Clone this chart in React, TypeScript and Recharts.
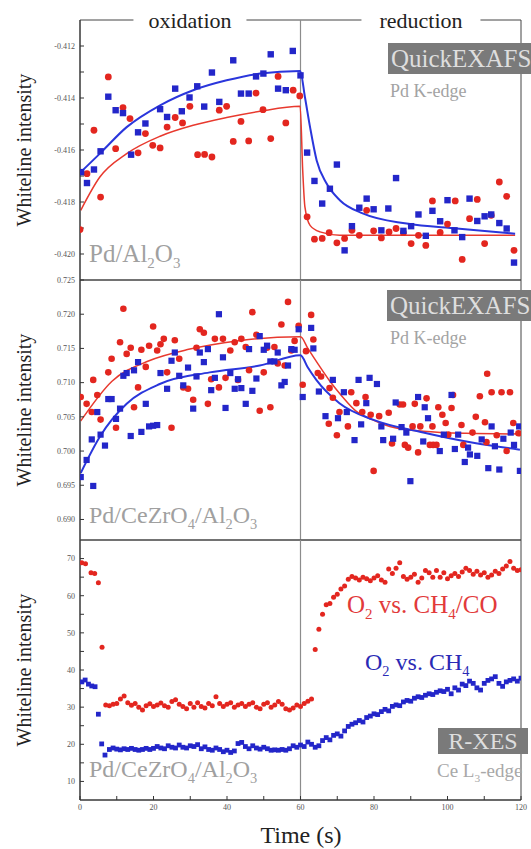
import {
  ComposedChart,
  Line,
  ReferenceArea,
  ReferenceLine,
  Scatter,
  XAxis,
  YAxis,
} from "recharts";

const SERIF = "'Liberation Serif', 'Times New Roman', Tinos, Times, serif";
const RED = "#e3261f";
const BLUE = "#2326c9";
const RED_FIT = "#e8392e";
const BLUE_FIT = "#2a36dc";

const X_TICKS = [0, 10, 20, 30, 40, 50, 60, 70, 80, 90, 100, 110, 120];
const Y1_TICKS = [-0.42, -0.419, -0.418, -0.417, -0.416, -0.415, -0.414, -0.413, -0.412];
const Y2_TICKS = [0.69, 0.695, 0.7, 0.705, 0.71, 0.715, 0.72, 0.725];
const Y3_TICKS = [10, 15, 20, 25, 30, 35, 40, 45, 50, 55, 60, 65, 70];

// Pd/Al2O3 (QuickEXAFS), [time, intensity]
const P1_BLUE = [
  [0.3, -0.41685], [1.9, -0.41727], [3.8, -0.41675], [5.6, -0.41605], [7.7, -0.41395], [9.7, -0.41447],
  [11.7, -0.41458], [13.9, -0.41618], [15.8, -0.41532], [17.8, -0.41498], [21.8, -0.41443], [23.7, -0.41473],
  [25.9, -0.41364], [27.7, -0.41451], [29.8, -0.41398], [31.9, -0.41355], [33.8, -0.41433], [35.9, -0.41302],
  [37.9, -0.41415], [41.7, -0.41255], [43.8, -0.41383], [45.9, -0.41383], [47.9, -0.41317], [49.9, -0.41306],
  [51.9, -0.41232], [53.9, -0.41364], [56, -0.4137], [57.9, -0.41219], [60, -0.41313], [61.8, -0.4161],
  [63.8, -0.41719], [65.9, -0.41806], [68, -0.41749], [69.9, -0.41656], [72, -0.41986], [74, -0.41893],
  [76, -0.41822], [78, -0.41787], [79.9, -0.41828], [82, -0.41909], [83.9, -0.41825], [86, -0.41708],
  [88, -0.41911], [90.1, -0.41893], [92.1, -0.41848], [94.1, -0.4193], [95.9, -0.41834], [98, -0.41874],
  [100, -0.41793], [101.9, -0.41909], [104, -0.41935], [106, -0.41787], [108.1, -0.41873], [110.1, -0.41855],
  [111.9, -0.41848], [114.1, -0.41881], [116.1, -0.41902], [118.1, -0.42033],
];
const P1_RED = [
  [0, -0.41906], [1.9, -0.41691], [3.8, -0.41524], [5.6, -0.41781], [7.7, -0.41319], [9.7, -0.41595],
  [11.7, -0.41437], [13.6, -0.41479], [15.8, -0.41611], [17.8, -0.41537], [19.8, -0.41582], [21.8, -0.41592],
  [23.7, -0.41512], [25.9, -0.41475], [27.9, -0.41496], [29.9, -0.41432], [32, -0.41618], [33.9, -0.41617],
  [35.9, -0.41627], [37.9, -0.41447], [39.9, -0.41432], [41.7, -0.41567], [43.8, -0.4149], [45.9, -0.41565],
  [47.9, -0.41381], [49.8, -0.41445], [51.9, -0.41556], [53.9, -0.41317], [56, -0.41496], [58, -0.4137],
  [59.8, -0.41392], [61.8, -0.41857], [63.8, -0.41943], [65.9, -0.4194], [67.8, -0.41918], [69.9, -0.41957],
  [72, -0.4194], [74, -0.41909], [76, -0.41928], [78, -0.41832], [79.9, -0.41911], [82, -0.41938],
  [84.1, -0.41915], [86, -0.41902], [88, -0.41918], [90.1, -0.4196], [92.1, -0.41928], [94.1, -0.41967],
  [95.9, -0.41796], [98, -0.41917], [100, -0.41885], [102.1, -0.41796], [104, -0.42021], [106, -0.41864],
  [108.1, -0.4179], [110.1, -0.4196], [111.9, -0.41851], [114.1, -0.41723], [116.1, -0.41778], [118.1, -0.41986],
];
const P1_BLUE_FIT = [
  [0.2, -0.41685], [5.4, -0.41614], [12.7, -0.41512], [21.8, -0.41428], [30.8, -0.4137], [39.9, -0.41332],
  [49, -0.41306], [59.9, -0.41296], [61.2, -0.41396], [62.6, -0.41512], [64.4, -0.4164], [67.1, -0.41729],
  [70.7, -0.41793], [77.1, -0.41845], [88.9, -0.41883], [102.5, -0.41902], [118.4, -0.41922],
];
const P1_RED_FIT = [
  [0.2, -0.41832], [5.4, -0.41704], [12.7, -0.41614], [21.8, -0.41547], [30.8, -0.41505], [39.9, -0.41475],
  [49, -0.41451], [59.9, -0.41432], [60.6, -0.41678], [61.2, -0.41819], [62.6, -0.4189], [65.3, -0.41915],
  [70.7, -0.41928], [118.4, -0.41928],
];

// Pd/CeZrO4/Al2O3 (QuickEXAFS)
const P2_RED = [
  [0.2, 0.7079], [1.8, 0.7069], [3.2, 0.7057], [3.6, 0.7104], [4.7, 0.7082], [5.6, 0.7046], [7.7, 0.7115],
  [8.6, 0.7135], [9.8, 0.7034], [10.9, 0.7159], [11.8, 0.7208], [12.7, 0.7142], [13.8, 0.7151], [14.7, 0.7064],
  [15.8, 0.7093], [16.7, 0.7148], [17.9, 0.7123], [18.8, 0.7154], [19.9, 0.7182], [21, 0.7147], [21.9, 0.7156],
  [22.8, 0.7164], [23.7, 0.7115], [24.9, 0.7034], [25.8, 0.7162], [27, 0.7135], [28.1, 0.7093], [29.4, 0.7091],
  [30.8, 0.7075], [31.7, 0.7151], [32.6, 0.7178], [33.7, 0.7173], [34.8, 0.7069], [35.7, 0.7105], [36.7, 0.7164],
  [37.8, 0.7093], [38.9, 0.7164], [39.6, 0.7107], [40.9, 0.7147], [42.1, 0.7159], [43, 0.7104], [43.9, 0.7164],
  [45.1, 0.7152], [46, 0.7118], [46.9, 0.7203], [48, 0.717], [48.9, 0.7059], [50, 0.7115], [50.9, 0.7151],
  [51.8, 0.7064], [52.9, 0.7152], [53.8, 0.7128], [54.8, 0.7185], [55.7, 0.7125], [56.6, 0.7218], [57.5, 0.7147],
  [58.4, 0.7161], [59.5, 0.7183], [60.6, 0.7097], [61.5, 0.7146], [62.9, 0.7199], [63.5, 0.7163], [64.7, 0.7114],
  [65.6, 0.7109], [67.7, 0.704], [67.9, 0.7092], [68.8, 0.7078], [69.9, 0.7023], [70.6, 0.7057], [72.9, 0.7036],
  [73.8, 0.7086], [75.2, 0.707], [76.8, 0.7057], [77.7, 0.7079], [79.1, 0.7053], [79.9, 0.6971], [81.4, 0.7051],
  [84, 0.7056], [84.9, 0.7011], [87, 0.7068], [87.9, 0.7068], [88.4, 0.7009], [89.3, 0.7005], [90.5, 0.7036],
  [91.1, 0.7069], [92, 0.6998], [92.6, 0.7036], [94.3, 0.7077], [95.2, 0.7009], [95.9, 0.7036], [96.1, 0.7009],
  [97, 0.7009], [97.5, 0.7064], [98.6, 0.7053], [99.5, 0.7041], [100.2, 0.7024], [101.1, 0.7063], [101.5, 0.7082],
  [103.8, 0.7038], [104.3, 0.7009], [106.8, 0.7027], [107.7, 0.705], [108.8, 0.708], [110.2, 0.7042],
  [110.6, 0.7013], [110.8, 0.7113], [112, 0.7086], [113.4, 0.7023], [114.7, 0.7086], [116.1, 0.7], [117, 0.7086],
  [117.9, 0.7041], [119.3, 0.7026],
];
const P2_BLUE = [
  [0.2, 0.6962], [1.8, 0.6987], [3.2, 0.7017], [3.6, 0.6949], [4.7, 0.7057], [5.6, 0.7024], [6.8, 0.7008],
  [7.7, 0.7076], [8.6, 0.7076], [9.8, 0.7047], [10.9, 0.7062], [11.8, 0.711], [12.7, 0.7114], [13.8, 0.7022],
  [14.7, 0.7118], [15.8, 0.713], [16.7, 0.7028], [17.9, 0.7069], [18.8, 0.7036], [19.9, 0.7037], [21, 0.7038],
  [21.9, 0.7114], [23.7, 0.7091], [24.9, 0.7132], [25.8, 0.7144], [27, 0.711], [28.1, 0.7096], [29.4, 0.7122],
  [30.8, 0.7062], [31.7, 0.7109], [32.6, 0.7144], [33.7, 0.713], [34.8, 0.7149], [35.7, 0.7089], [36.7, 0.7107],
  [37.8, 0.72], [38.9, 0.7137], [39.6, 0.7063], [40.9, 0.7114], [42.1, 0.7091], [43, 0.7105], [43.9, 0.7092],
  [45.1, 0.7069], [46, 0.7149], [46.9, 0.7088], [48, 0.7106], [48.9, 0.7168], [50, 0.7148], [50.9, 0.7154],
  [51.8, 0.7131], [52.9, 0.7131], [53.8, 0.7144], [54.8, 0.7096], [55.7, 0.7101], [56.6, 0.7125], [57.5, 0.7149],
  [58.4, 0.7148], [59.5, 0.7178], [60.6, 0.7079], [62.9, 0.718], [63.5, 0.715], [65, 0.7087], [66.8, 0.7051],
  [68.8, 0.7104], [70.2, 0.7048], [71.8, 0.7086], [72.6, 0.7057], [74.7, 0.7016], [75.8, 0.7104], [76.5, 0.7039],
  [77.9, 0.707], [78.8, 0.7107], [80.8, 0.7098], [82, 0.7036], [82.5, 0.7016], [85.2, 0.7018], [85.9, 0.7071],
  [87.5, 0.7035], [88.8, 0.7027], [89.9, 0.6956], [92, 0.7079], [93.4, 0.7014], [93.8, 0.7064], [94.7, 0.7048],
  [97.9, 0.7], [99, 0.7024], [101.1, 0.7082], [102, 0.7003], [102.9, 0.7024], [104.7, 0.6984], [105.6, 0.7005],
  [106.1, 0.6995], [108.1, 0.6993], [109.3, 0.7017], [111.1, 0.6975], [112, 0.7036], [112.9, 0.7007],
  [114.1, 0.6973], [115.2, 0.7018], [117.2, 0.7027], [118.1, 0.7009], [119.5, 0.7036], [119.7, 0.6971],
];
const P2_RED_FIT = [
  [0.2, 0.7044], [8.7, 0.7102], [18.8, 0.7132], [29.9, 0.7149], [42.7, 0.7161], [60, 0.7167], [62, 0.715],
  [64.8, 0.7127], [68, 0.7102], [71, 0.7082], [75.2, 0.7058], [79.5, 0.7046], [84.3, 0.7036], [93.4, 0.7029],
  [105, 0.7026], [119.7, 0.7025],
];
const P2_BLUE_FIT = [
  [0.2, 0.6968], [5.4, 0.7021], [12.7, 0.7069], [21.7, 0.7098], [35.3, 0.7115], [48.9, 0.7125], [60, 0.714],
  [62, 0.7122], [64.3, 0.7104], [70.6, 0.707], [79.7, 0.7046], [93.4, 0.7027], [107, 0.7012], [119.7, 0.7002],
];

// Pd/CeZrO4/Al2O3 (R-XES, Ce L3-edge)
const P3_RED = [
  [0.5, 68.9], [1.5, 68.6], [3, 66.2], [4, 66.0], [5, 63.5], [6, 46.1], [7, 30.6], [8, 30.4], [9, 30.8],
  [10, 31.0], [11, 32.2], [12, 33.0], [13, 31.2], [14, 30.5], [15, 31.0], [16, 30.0], [17, 29.2], [18, 30.4],
  [19, 30.9], [20, 30.2], [21, 30.6], [22, 31.1], [23, 30.4], [24, 30.0], [25, 31.5], [26, 32.0], [27, 30.8],
  [28, 30.2], [29, 29.6], [30, 31.0], [31, 30.0], [32, 31.2], [33, 30.2], [34, 29.8], [35, 31.0], [36, 30.4],
  [37, 32.8], [38, 31.0], [39, 30.2], [40, 30.8], [41, 31.2], [42, 30.0], [43, 30.6], [44, 31.0], [45, 30.2],
  [46, 30.8], [47, 31.2], [48, 30.0], [49, 29.6], [50, 30.8], [51, 31.2], [52, 30.0], [53, 30.6], [54, 31.5],
  [55, 30.8], [56, 29.6], [57, 29.2], [58, 29.8], [59, 30.6], [60, 30.2], [61, 31.0], [62, 31.6], [63, 32.2],
  [64, 45.5], [65, 51.0], [66, 55.0], [67, 57.6], [68, 57.9], [69, 59.6], [70, 60.4], [71, 61.8], [72, 62.6],
  [73, 64.4], [74, 65.2], [75, 64.8], [76, 64.2], [77, 65.0], [78, 64.6], [79, 64.0], [80, 64.8], [81, 65.4],
  [82, 64.2], [83, 63.6], [84, 67.2], [85, 66.0], [86, 67.4], [87, 68.9], [88, 65.2], [89, 64.4], [90, 65.0],
  [91, 65.8], [92, 63.6], [93, 64.8], [94, 66.8], [95, 66.2], [96, 65.0], [97, 66.8], [98, 65.0], [99, 66.2],
  [100, 64.6], [101, 65.4], [102, 66.0], [103, 65.2], [104, 66.4], [105, 67.4], [106, 66.8], [107, 65.8],
  [108, 66.6], [109, 65.6], [110, 66.2], [111, 65.0], [112, 65.6], [113, 66.6], [114, 66.0], [115, 67.2],
  [116, 68.0], [117, 69.2], [118, 67.4], [119, 66.8], [120, 67.0],
];
const P3_BLUE = [
  [0.5, 36.8], [1.4, 37.3], [2.3, 36.2], [3.2, 35.7], [4.1, 35.5], [5, 28.1], [5.9, 20.1], [6.8, 17.1],
  [8, 18.6], [9, 19.0], [10, 18.7], [11, 18.5], [12, 18.8], [13, 18.6], [14, 18.9], [15, 18.6], [16, 18.4],
  [17, 18.6], [18, 18.9], [19, 18.6], [20, 18.9], [21, 19.4], [22, 19.0], [23, 18.8], [24, 19.6], [25, 19.2],
  [26, 19.0], [27, 19.8], [28, 19.2], [29, 19.0], [30, 19.6], [31, 19.4], [32, 19.9], [33, 18.8], [34, 19.3],
  [35, 18.6], [36, 18.4], [37, 19.0], [38, 18.6], [39, 18.0], [40, 18.4], [41, 17.8], [42, 18.2], [43, 20.2],
  [44, 20.5], [45, 19.4], [46, 18.8], [47, 19.6], [48, 19.0], [49, 18.7], [50, 19.2], [51, 18.8], [52, 18.4],
  [53, 18.5], [54, 18.4], [55, 18.6], [56, 18.4], [57, 18.8], [58, 19.6], [59, 19.2], [60, 19.8], [61, 19.4],
  [62, 20.6], [63, 20.0], [64, 19.2], [65, 19.6], [66, 21.0], [67, 21.8], [68, 21.2], [69, 22.4], [70, 22.8],
  [71, 22.2], [72, 23.6], [73, 24.8], [74, 25.4], [75, 25.8], [76, 26.4], [77, 26.0], [78, 27.2], [79, 27.6],
  [80, 28.2], [81, 28.0], [82, 28.8], [83, 29.4], [84, 29.0], [85, 30.2], [86, 30.6], [87, 30.4], [88, 31.4],
  [89, 31.8], [90, 31.6], [91, 32.4], [92, 32.8], [93, 32.6], [94, 33.2], [95, 33.6], [96, 33.4], [97, 34.0],
  [98, 34.4], [99, 34.2], [100, 34.8], [101, 33.6], [102, 35.2], [103, 34.6], [104, 36.2], [105, 35.8],
  [106, 37.0], [107, 36.4], [108, 35.2], [109, 34.6], [110, 36.4], [111, 37.2], [112, 37.6], [113, 38.2],
  [114, 36.4], [115, 35.6], [116, 36.8], [117, 37.2], [118, 37.6], [119, 37.0], [120, 37.8],
];

const pts = (arr: number[][]) => arr.map(([t, v]) => ({ t, v }));

const circle = (color: string, r: number) => (p: any) => (
  <circle cx={p.cx} cy={p.cy} r={r} fill={color} />
);
const square = (color: string, s: number) => (p: any) => (
  <rect x={p.cx - s / 2} y={p.cy - s / 2} width={s} height={s} fill={color} />
);

const tickStyle = { fontSize: 8, fill: "#555", stroke: "none", fontFamily: SERIF };

function Panel({
  top, height, mt, mb, xh, domain, yTicks, yFmt, showX, red, blue, redFit, blueFit, r, s,
}: any) {
  return (
    <div style={{ position: "absolute", left: 0, top }}>
      <ComposedChart width={531} height={height} margin={{ top: mt, right: 10, bottom: mb, left: 0 }}>
        <XAxis
          dataKey="t"
          type="number"
          domain={[0, 120]}
          ticks={X_TICKS}
          interval={0}
          allowDataOverflow
          height={xh}
          tickSize={-4}
          tickMargin={showX ? 8 : 0}
          tickFormatter={(v: number) => (showX && v % 20 === 0 ? String(v) : "")}
          stroke="#333"
          tick={tickStyle}
        />
        <YAxis
          type="number"
          domain={domain}
          ticks={yTicks}
          interval={0}
          allowDataOverflow
          width={80}
          tickSize={-4}
          tickMargin={9}
          tickFormatter={yFmt}
          stroke="#333"
          tick={tickStyle}
        />
        <ReferenceArea x1={0} x2={120} y1={domain[0]} y2={domain[1]} fill="none" stroke="#444" ifOverflow="visible" />
        <ReferenceLine x={60} stroke="#8c8c8c" strokeWidth={1.2} />
        <Scatter data={pts(red)} dataKey="v" shape={circle(RED, r)} isAnimationActive={false} />
        <Scatter data={pts(blue)} dataKey="v" shape={square(BLUE, s)} isAnimationActive={false} />
        {redFit && (
          <Line data={pts(redFit)} dataKey="v" type="monotone" stroke={RED_FIT} strokeWidth={1.5}
            dot={false} isAnimationActive={false} />
        )}
        {blueFit && (
          <Line data={pts(blueFit)} dataKey="v" type="monotone" stroke={BLUE_FIT} strokeWidth={2}
            dot={false} isAnimationActive={false} />
        )}
      </ComposedChart>
    </div>
  );
}

const Sub = ({ children }: any) => (
  <span style={{ fontSize: "0.6em", position: "relative", top: "0.4em" }}>{children}</span>
);

const txt = (left: number, top: number, size: number, color: string, extra: any = {}) => ({
  position: "absolute" as const,
  left,
  top,
  fontSize: size,
  color,
  lineHeight: 1,
  whiteSpace: "nowrap" as const,
  fontFamily: SERIF,
  ...extra,
});

const box = (left: number, top: number, width: number, height: number) => ({
  position: "absolute" as const,
  left,
  top,
  width,
  height,
  background: "#7a7a7a",
  color: "#dedede",
  fontSize: 25,
  lineHeight: `${height}px`,
  whiteSpace: "nowrap" as const,
  fontFamily: SERIF,
});

const yLabel = (cy: number) =>
  txt(24, cy, 20, "#222", { transform: "translate(-50%, -50%) rotate(-90deg)" });

export default function App() {
  return (
    <div style={{ position: "absolute", left: 0, top: 0, width: 531, height: 849, overflow: "hidden", background: "#fff" }}>
      <Panel top={0} height={290} mt={20} mb={10} xh={0} domain={[-0.421, -0.411]} yTicks={Y1_TICKS}
        yFmt={(v: number) => (Math.round(v * 1000) % 2 === 0 ? v.toFixed(3) : "")}
        showX={false} red={P1_RED} blue={P1_BLUE} redFit={P1_RED_FIT} blueFit={P1_BLUE_FIT} r={3.4} s={6.4} />
      <Panel top={270} height={280} mt={10} mb={10} xh={0} domain={[0.687, 0.725]} yTicks={Y2_TICKS}
        yFmt={(v: number) => v.toFixed(3)}
        showX={false} red={P2_RED} blue={P2_BLUE} redFit={P2_RED_FIT} blueFit={P2_BLUE_FIT} r={3.3} s={6.2} />
      <Panel top={530} height={319} mt={10} mb={19} xh={30} domain={[5, 75]} yTicks={Y3_TICKS}
        yFmt={(v: number) => (v % 10 === 0 ? String(v) : "")}
        showX={true} red={P3_RED} blue={P3_BLUE} r={2.5} s={4.8} />

      <div style={txt(190, 9.6, 22, "#222", { transform: "translateX(-50%)", background: "#fff", padding: "0 15px" })}>
        oxidation
      </div>
      <div style={txt(421, 9.6, 22, "#222", { transform: "translateX(-50%)", background: "#fff", padding: "0 18px" })}>
        reduction
      </div>

      <div style={yLabel(150)}>Whiteline intensity</div>
      <div style={yLabel(410)}>Whiteline intensity</div>
      <div style={yLabel(670)}>Whiteline intensity</div>

      <div style={box(388, 43, 160, 31)}><span style={{ paddingLeft: 3 }}>QuickEXAFS</span></div>
      <div style={txt(390, 81.6, 18, "#a3a3a3")}>Pd K-edge</div>
      <div style={txt(89, 240.8, 25, "#a0a0a0")}>Pd/Al<Sub>2</Sub>O<Sub>3</Sub></div>

      <div style={box(387, 289.5, 160, 31)}><span style={{ paddingLeft: 3 }}>QuickEXAFS</span></div>
      <div style={txt(390, 329, 18, "#a3a3a3")}>Pd K-edge</div>
      <div style={txt(89, 503, 24, "#a0a0a0")}>Pd/CeZrO<Sub>4</Sub>/Al<Sub>2</Sub>O<Sub>3</Sub></div>

      <div style={txt(347, 592, 25, "#e23a3a")}>O<Sub>2</Sub> vs. CH<Sub>4</Sub>/CO</div>
      <div style={txt(365, 650, 24, "#2a2ab5")}>O<Sub>2</Sub> vs. CH<Sub>4</Sub></div>
      <div style={{ ...box(438, 728, 90, 26), fontSize: 24, textAlign: "center" }}>R-XES</div>
      <div style={txt(437, 761, 19, "#a8a8a8")}>Ce L<Sub>3</Sub>-edge</div>
      <div style={txt(89, 757.4, 24, "#a0a0a0")}>Pd/CeZrO<Sub>4</Sub>/Al<Sub>2</Sub>O<Sub>3</Sub></div>

      <div style={txt(301, 823, 24, "#222", { transform: "translateX(-50%)" })}>Time (s)</div>
    </div>
  );
}
